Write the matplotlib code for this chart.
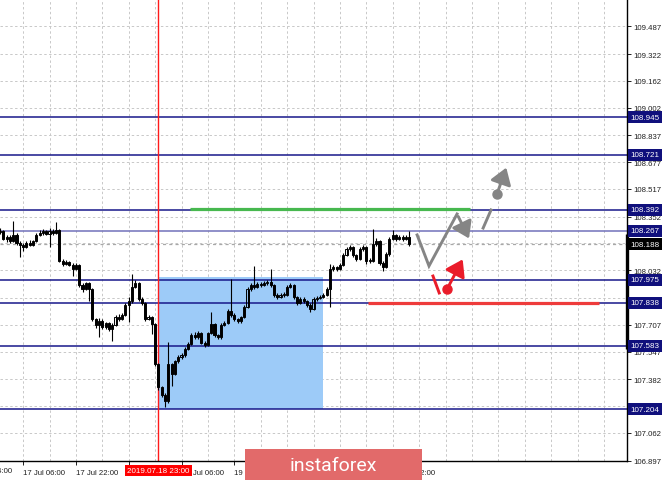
import numpy as np
import matplotlib.pyplot as plt
import matplotlib.transforms as mtransforms
from matplotlib.patches import Rectangle, FancyArrowPatch

# H1 candles, bar index 0..124 (open = previous close)
first_open = 108.261
closes = [108.267, 108.219, 108.231, 108.207, 108.243, 108.195, 108.183, 108.171, 108.195, 108.183,
          108.207, 108.243, 108.255, 108.267, 108.249, 108.267, 108.255, 108.273, 108.088, 108.070,
          108.082, 108.064, 108.040, 108.064, 107.945, 107.921, 107.957, 107.921, 107.742, 107.706,
          107.730, 107.694, 107.718, 107.682, 107.706, 107.754, 107.742, 107.766, 107.825, 107.849,
          107.933, 107.957, 107.861, 107.837, 107.742, 107.754, 107.712, 107.474, 107.336, 107.289,
          107.253, 107.474, 107.414, 107.491, 107.515, 107.527, 107.563, 107.593, 107.646, 107.634,
          107.658, 107.599, 107.587, 107.658, 107.712, 107.646, 107.634, 107.706, 107.718, 107.790,
          107.766, 107.742, 107.730, 107.754, 107.813, 107.921, 107.945, 107.933, 107.951, 107.945,
          107.957, 107.962, 107.945, 107.885, 107.873, 107.885, 107.885, 107.933, 107.945, 107.873,
          107.837, 107.861, 107.849, 107.825, 107.801, 107.861, 107.867, 107.873, 107.885, 107.921,
          108.040, 108.052, 108.040, 108.064, 108.123, 108.159, 108.171, 108.123, 108.100, 108.159,
          108.171, 108.088, 108.088, 108.189, 108.207, 108.076, 108.052, 108.129, 108.219, 108.243,
          108.219, 108.231, 108.219, 108.231, 108.188]
highs = [108.285, 108.270, 108.240, 108.245, 108.326, 108.255, 108.205, 108.195, 108.205, 108.210,
         108.215, 108.255, 108.270, 108.280, 108.275, 108.285, 108.280, 108.320, 108.280, 108.100,
         108.095, 108.090, 108.075, 108.075, 108.070, 107.955, 107.965, 107.960, 107.925, 107.750,
         107.745, 107.740, 107.725, 107.722, 107.715, 107.765, 107.770, 107.775, 107.835, 107.870,
         108.010, 107.975, 107.960, 107.870, 107.845, 107.765, 107.760, 107.720, 107.480, 107.345,
         107.300, 107.605, 107.480, 107.500, 107.530, 107.540, 107.575, 107.605, 107.660, 107.665,
         107.670, 107.665, 107.610, 107.665, 107.784, 107.720, 107.655, 107.715, 107.730, 107.800,
         107.980, 107.775, 107.750, 107.760, 107.825, 107.935, 107.955, 108.058, 107.965, 107.960,
         107.970, 107.975, 108.040, 107.950, 107.895, 107.895, 107.900, 107.945, 107.955, 107.950,
         107.880, 107.870, 107.870, 107.855, 107.835, 107.870, 107.880, 107.885, 107.895, 107.930,
         108.070, 108.065, 108.060, 108.075, 108.135, 108.170, 108.185, 108.180, 108.130, 108.170,
         108.185, 108.180, 108.105, 108.279, 108.225, 108.215, 108.085, 108.140, 108.230, 108.273,
         108.250, 108.245, 108.240, 108.245, 108.267]
lows = [108.250, 108.210, 108.200, 108.195, 108.200, 108.185, 108.112, 108.150, 108.165, 108.175,
        108.175, 108.200, 108.235, 108.245, 108.240, 108.171, 108.245, 108.250, 108.080, 108.060,
        108.065, 108.055, 107.998, 108.035, 107.935, 107.905, 107.915, 107.849, 107.730, 107.690,
        107.634, 107.680, 107.685, 107.670, 107.611, 107.700, 107.730, 107.735, 107.760, 107.724,
        107.840, 107.925, 107.850, 107.825, 107.730, 107.735, 107.652, 107.460, 107.320, 107.275,
        107.217, 107.240, 107.342, 107.405, 107.480, 107.505, 107.515, 107.555, 107.585, 107.620,
        107.625, 107.590, 107.575, 107.580, 107.650, 107.635, 107.620, 107.625, 107.700, 107.710,
        107.755, 107.730, 107.720, 107.720, 107.745, 107.805, 107.910, 107.920, 107.925, 107.930,
        107.940, 107.945, 107.935, 107.875, 107.860, 107.865, 107.870, 107.880, 107.925, 107.860,
        107.825, 107.830, 107.840, 107.813, 107.785, 107.795, 107.850, 107.860, 107.865, 107.880,
        107.813, 108.030, 108.030, 108.035, 108.060, 108.115, 108.150, 108.110, 108.090, 108.095,
        108.150, 108.070, 108.075, 108.080, 108.180, 108.065, 108.028, 108.045, 108.120, 108.210,
        108.205, 108.210, 108.205, 108.210, 108.180]

# horizontal levels with price boxes
levels = [108.945, 108.721, 108.392, 108.267, 107.975, 107.838, 107.583, 107.204]
bid = 108.188

yticks = [106.897, 107.062, 107.222, 107.382, 107.547, 107.707, 107.867, 108.032, 108.192,
          108.352, 108.517, 108.677, 108.837, 109.002, 109.162, 109.322, 109.487]
hidden_yticks = [107.222, 108.192]   # fully covered by price boxes
xtick_pos = [7, 23, 39, 55, 71, 87, 103, 119]
# labels at 39, 87, 103 sit fully under the date box / logo
xtick_labels = ['17 Jul 06:00', '17 Jul 22:00', '', '19 Jul 06:00',
                '19 Jul 22:00', '', '', '23 Jul 22:00']
first_label = (-9, '16 Jul 14:00')

vline_bar = 48
vline_label = '2019.07.18 23:00'
box_bars = (48, 97.9)
box_prices = (107.204, 107.995)
green_bars, green_price = (57.6, 142.5), 108.40
red_bars, red_price = (111.5, 181.5), 107.84
range_prices = (108.249, 107.563)

# forecast sketch (bar, price)
gray_zig = [(126.4, 108.243), (130.0, 108.058), (138.5, 108.368)]
gray_zig_tip = (142.5, 108.207)
gray_dash = [(146.4, 108.284), (148.8, 108.392)]
gray_dot = (150.6, 108.487)
gray_tip = (153.7, 108.660)
red_tick = [(131.2, 107.998), (133.1, 107.897)]
red_dot = (135.5, 107.921)
red_tip = (140.6, 108.112)

plt.rcParams['font.family'] = ['Liberation Sans', 'DejaVu Sans']

fig = plt.figure(figsize=(6.65, 4.81), dpi=100)
ax = fig.add_axes([0, 19 / 481, 627 / 665, 462 / 481])
ax.set_xlim(0, 190)
ax.set_ylim(106.895, 109.65)

grid_kw = dict(color='#c8c8c8', lw=0.7, ls=(0, (2.5, 2.5)), zorder=0)
for y in yticks:
    ax.axhline(y, **grid_kw)
for x in np.arange(7, 190, 8):
    ax.axvline(x, **grid_kw)

ax.add_patch(Rectangle((box_bars[0], box_prices[0]), box_bars[1] - box_bars[0],
                       box_prices[1] - box_prices[0], facecolor='#9dcbf8', edgecolor='none', zorder=1))

for lv in levels:
    col = '#7272bb' if lv == 108.267 else '#17178a'
    ax.axhline(lv, color=col, lw=1.1, zorder=2)
ax.axhline(bid, color='#a8a8a8', lw=0.9, ls=(0, (2.5, 2.5)), zorder=2)

ax.axvline(vline_bar, color='#ff1a1a', lw=1.0, zorder=2)

# candles
opens = [first_open] + closes[:-1]
idx = np.arange(len(closes))
ax.vlines(idx, lows, highs, color='black', lw=0.8, zorder=3)
for i in idx:
    o, c = opens[i], closes[i]
    bull = c >= o
    ax.add_patch(Rectangle((i - 0.32, min(o, c)), 0.64, max(abs(c - o), 0.003),
                           facecolor='none' if bull else 'black', edgecolor='black',
                           lw=0.7, zorder=4))

ax.plot(green_bars, [green_price] * 2, color='#47b84f', lw=2.3, solid_capstyle='butt', zorder=5)
ax.plot(red_bars, [red_price] * 2, color='#ee3b3b', lw=2.3, solid_capstyle='butt', zorder=5)

gcol = '#858585'
astyle = '-|>,head_length=0.75,head_width=0.5'
ax.plot([p[0] for p in gray_zig], [p[1] for p in gray_zig], color=gcol, lw=2.1,
        solid_joinstyle='miter', zorder=6)
ax.add_patch(FancyArrowPatch(gray_zig[-1], gray_zig_tip, arrowstyle=astyle,
                             mutation_scale=13, color=gcol, lw=2.1, zorder=6))
ax.plot([p[0] for p in gray_dash], [p[1] for p in gray_dash], color=gcol, lw=2.1, zorder=6)
ax.plot(*gray_dot, 'o', color=gcol, ms=6.5, zorder=6)
ax.add_patch(FancyArrowPatch(gray_dot, gray_tip, arrowstyle=astyle,
                             mutation_scale=13, color=gcol, lw=2.1, zorder=6))

rcol = '#ea1c2a'
ax.plot([p[0] for p in red_tick], [p[1] for p in red_tick], color=rcol, lw=2.1, zorder=6)
ax.plot(*red_dot, 'o', color=rcol, ms=6.5, zorder=6)
ax.add_patch(FancyArrowPatch(red_dot, red_tip, arrowstyle=astyle,
                             mutation_scale=13, color=rcol, lw=2.1, zorder=6))

# axes styling
for s in ['left', 'top']:
    ax.spines[s].set_visible(False)
ax.spines['right'].set_linewidth(1.0)
ax.spines['bottom'].set_linewidth(1.0)
ax.yaxis.tick_right()
ax.set_yticks(yticks)
ax.set_yticklabels(['' if v in hidden_yticks else '%.3f' % v for v in yticks])
ax.set_xticks(xtick_pos)
ax.set_xticklabels(xtick_labels, ha='left')
ax.tick_params(axis='y', labelsize=5.6, length=3, width=0.7, pad=1.5, colors='#202020')
ax.tick_params(axis='x', labelsize=5.6, length=3, width=0.7, pad=2.5, colors='#202020')

ax.text(first_label[0], -0.012, first_label[1], transform=mtransforms.blended_transform_factory(ax.transData, ax.transAxes),
        ha='left', va='top', fontsize=5.6, color='#202020', clip_on=False)

ax.plot([1.0, 1.0], range_prices, color='black', lw=2.4, solid_capstyle='butt',
        transform=mtransforms.blended_transform_factory(ax.transAxes, ax.transData), clip_on=False, zorder=7)

ytr = mtransforms.blended_transform_factory(ax.transAxes, ax.transData)
for lv in levels:
    ax.text(1.006, lv, '%.3f' % lv, transform=ytr, ha='left', va='center', fontsize=5.8,
            color='white', clip_on=False, zorder=8,
            bbox=dict(boxstyle='square,pad=0.3', facecolor='#10107c', edgecolor='none'))
ax.text(1.006, bid, '%.3f' % bid, transform=ytr, ha='left', va='center', fontsize=5.8,
        color='white', clip_on=False, zorder=8,
        bbox=dict(boxstyle='square,pad=0.3', facecolor='black', edgecolor='none'))

xtr = mtransforms.blended_transform_factory(ax.transData, ax.transAxes)
ax.text(vline_bar, -0.0205, vline_label, transform=xtr, ha='center', va='center', fontsize=5.8,
        color='white', clip_on=False, zorder=8,
        bbox=dict(boxstyle='square,pad=0.3', facecolor='#ff0000', edgecolor='none'))

# logo
fig.patches.append(Rectangle((245 / 665, 0), 177 / 665, 31 / 481, transform=fig.transFigure,
                             facecolor='#e26a6a', edgecolor='none', zorder=10))
fig.text(333.5 / 665, 15 / 481, 'instaforex', ha='center', va='center', fontsize=14,
         color='white', family=['Roboto', 'DejaVu Sans'], zorder=11)

fig.savefig('out.png', dpi=100)
